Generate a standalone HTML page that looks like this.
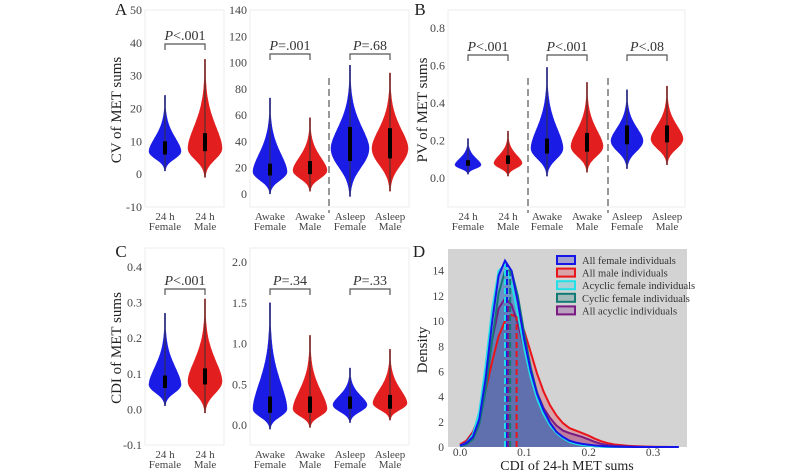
<!DOCTYPE html>
<html><head><meta charset="utf-8"><style>
html,body{margin:0;padding:0;background:#fff;}
svg{display:block;font-family:"Liberation Serif",serif;}
</style></head><body>
<svg id="fig" width="800" height="471" viewBox="0 0 800 471" xmlns="http://www.w3.org/2000/svg"></svg>
<script>
// ---------- data ----------
const catA1 = ["24 h|Female","24 h|Male"];
const catA2 = ["Awake|Female","Awake|Male","Asleep|Female","Asleep|Male"];
const catB = ["24 h|Female","24 h|Male","Awake|Female","Awake|Male","Asleep|Female","Asleep|Male"];
// violin stats: min, max, mode, q1, q3
const a1Min=[1,-1], a1Max=[24,35], a1Mode=[7,8], a1Q1=[6,7], a1Q3=[10,12.5];
const a2Min=[0,2,-2,2], a2Max=[73,58,98,92], a2Mode=[17,18,35,35], a2Q1=[14,15,25,27], a2Q3=[23,25,51,50];
const bMin=[0.02,0.01,0.01,0.03,0.05,0.07], bMax=[0.21,0.25,0.59,0.51,0.47,0.49], bMode=[0.07,0.08,0.16,0.17,0.2,0.21], bQ1=[0.065,0.075,0.13,0.14,0.18,0.19], bQ3=[0.095,0.12,0.21,0.24,0.28,0.28];
const c1Min=[0.01,-0.01], c1Max=[0.27,0.31], c1Mode=[0.07,0.08], c1Q1=[0.06,0.07], c1Q3=[0.095,0.115];
const c2Min=[-0.05,-0.03,0.03,0.06], c2Max=[1.5,1.1,0.7,0.93], c2Mode=[0.2,0.2,0.25,0.27], c2Q1=[0.15,0.15,0.2,0.2], c2Q3=[0.35,0.35,0.35,0.37];
const pA1=["P<.001"], pA2=["P=.001","P=.68"], pB=["P<.001","P<.001","P<.08"], pC1=["P<.001"], pC2=["P=.34","P=.33"];
// density panel D
const dGrid=[0,0.01,0.02,0.03,0.04,0.05,0.06,0.07,0.08,0.09,0.1,0.11,0.12,0.13,0.14,0.15,0.16,0.17,0.18,0.19,0.2,0.21,0.22,0.23,0.24,0.25,0.26,0.27,0.28,0.29,0.3,0.31,0.32,0.33,0.34];
const dFemale=[0.1,0.3,0.8,2.2,5.5,10,13.6,14.8,14,11.5,8.5,6,4.2,2.9,1.9,1.2,0.8,0.5,0.35,0.25,0.18,0.12,0.08,0.05,0.03,0.02,0.01,0,0,0,0,0,0,0,0];
const dMale=[0.2,0.5,1.2,2.5,4.5,6.8,8.8,10,10.5,10.3,9.2,7.5,5.8,4.4,3.3,2.5,1.9,1.5,1.3,1.1,0.9,0.65,0.45,0.3,0.2,0.15,0.1,0.07,0.05,0.03,0.02,0.01,0.01,0,0];
const dAcycF=[0.1,0.3,1,2.8,6.5,11,14,14.5,13,10.5,7.8,5.5,3.8,2.6,1.7,1.1,0.7,0.4,0.25,0.15,0.1,0.06,0.03,0,0,0,0,0,0,0,0,0,0,0,0];
const dCycF=[0.05,0.2,0.6,1.8,4.5,8.5,12.2,14,14,12,9,6.3,4.3,2.9,1.9,1.2,0.7,0.4,0.25,0.15,0.1,0.06,0.03,0.02,0,0,0,0,0,0,0,0,0,0,0];
const dAllAcyc=[0.1,0.4,1.1,2.5,5,8.5,11,11.8,11.3,9.8,7.8,5.9,4.3,3.1,2.3,1.7,1.3,1.1,0.95,0.8,0.6,0.4,0.25,0.15,0.1,0.07,0.05,0.03,0.02,0.01,0,0,0,0,0];
const dMedians=[0.073,0.088,0.07,0.078,0.075];
const dLabels=["All female individuals","All male individuals","Acyclic female individuals","Cyclic female individuals","All acyclic individuals"];
const dTicksX=[0,0.1,0.2,0.3], dTicksY=[0,2,4,6,8,10,12,14];

// ---------- helpers ----------
const NS="http://www.w3.org/2000/svg", svg=document.getElementById('fig');
function mk(tag,attrs,parent,text){const e=document.createElementNS(NS,tag);for(const k in attrs)e.setAttribute(k,attrs[k]);if(text!==undefined)e.textContent=text;(parent||svg).appendChild(e);return e;}
function lin(d0,d1,r0,r1){return v=>r0+(v-d0)*(r1-r0)/(d1-d0);}
const BLUE="#1b1be6", RED="#e31e1e";

function violinPanel(name,box,dom,ticks,fmt,cats,xs,mins,maxs,modes,q1s,q3s,hw,pvals,brY,dashes){
  const g=mk('g',{});
  
  
  const r=mk('rect',{x:box[0],y:box[1],width:box[2]-box[0],height:box[3]-box[1],fill:'#fff',stroke:'#ececec','stroke-width':1},g);
  
  
  const y=lin(dom[0],dom[1],box[3],box[1]);
  ticks.forEach(t=>{
    const tx=mk('text',{x:box[0]-3,y:y(t)+4,'text-anchor':'end','font-size':12,fill:'#444'},g,fmt(t));
    
    
  });
  (dashes||[]).forEach(dx=>{
    const l=mk('line',{x1:dx,x2:dx,y1:box[1]+68,y2:box[3]+6,stroke:'#555','stroke-width':1.2,'stroke-dasharray':'7,4'},g);
    
    
  });
  cats.forEach((c,i)=>{
    const cx=xs[i], parts=c.split('|');
    const lo=mins[i],hi=maxs[i],mo=modes[i];
    const sd=(mo-lo)/1.9, su=(hi-mo)/2.6;
    const N=80,L=[],R=[];
    for(let k=0;k<=N;k++){
      const v=lo+(hi-lo)*k/N;
      const z=Math.abs(v-mo)/(v<mo?sd:su);
      const w=Math.max(0.6,hw[i]*Math.exp(-Math.pow(z,v<mo?2.2:1.7)));
      R.push([cx+w,y(v)]);L.push([cx-w,y(v)]);
    }
    const pts=R.concat(L.reverse()).map(p=>p[0].toFixed(1)+','+p[1].toFixed(1)).join(' ');
    const col=parts[1]==='Female'?BLUE:RED;
    const v=mk('polygon',{points:pts,fill:col,stroke:col,'stroke-width':0.5},g);
    
    
    const wl=mk('line',{x1:cx,x2:cx,y1:y(lo),y2:y(hi),stroke:'#333','stroke-width':1},g);
    
    
    const bx=mk('rect',{x:cx-2,y:y(q3s[i]),width:4,height:y(q1s[i])-y(q3s[i]),fill:'#000'},g);
    
    
    [0,1].forEach(j=>{
      const tl=mk('text',{x:cx,y:box[3]+13+j*10,'text-anchor':'middle','font-size':11,fill:'#444'},g,parts[j]);
      
      
    });
  });
  pvals.forEach((p,k)=>{
    const xa=xs[2*k],xb=xs[2*k+1];
    const br=mk('path',{d:`M${xa},${brY+6}V${brY}H${xb}V${brY+6}`,fill:'none',stroke:'#555','stroke-width':1.2},g);
    
    
    const t=mk('text',{x:(xa+xb)/2,y:brY-4,'text-anchor':'middle','font-size':14,fill:'#333'},g);
    
    
    mk('tspan',{'font-style':'italic'},t,'P');
    mk('tspan',{},t,p.slice(1));
  });
  return g;
}
function label(txt,x,y,size,rot,name){
  const t=mk('text',{x:x,y:y,'text-anchor':'middle','font-size':size,fill:'#222',transform:rot?`rotate(-90 ${x} ${y})`:''},svg,txt);
  
  
}
const f0=t=>String(t), f1=t=>t.toFixed(1);

violinPanel('panel-a-24h',[145,10,224,207],[-10,50],[-10,0,10,20,30,40,50],f0,catA1,[165,205],a1Min,a1Max,a1Mode,a1Q1,a1Q3,[16,17],pA1,44);
violinPanel('panel-a-awake-asleep',[250,10,409,207],[-10,140],[0,20,40,60,80,100,120,140],f0,catA2,[270,310,350,390],a2Min,a2Max,a2Mode,a2Q1,a2Q3,[17,17,19,18],pA2,54,[329]);
violinPanel('panel-b',[448,10,685,207],[-0.155,0.896],[0,0.2,0.4,0.6,0.8],f1,catB,[468,508,547,587,627,667],bMin,bMax,bMode,bQ1,bQ3,[13,14,16,16,16,16],pB,55,[528,608]);
violinPanel('panel-c-24h',[145,248,224,445],[-0.1,0.453],[-0.1,0,0.1,0.2,0.3,0.4],f1,catA1,[165,205],c1Min,c1Max,c1Mode,c1Q1,c1Q3,[16,17],pC1,289);
violinPanel('panel-c-awake-asleep',[250,248,409,445],[-0.245,2.172],[0,0.5,1,1.5,2],f1,catA2,[270,310,350,390],c2Min,c2Max,c2Mode,c2Q1,c2Q3,[17,17,17,17],pC2,289);

label('CV of MET sums',121,110,15,true,'y-axis-title-a');
label('PV of MET sums',427,110,15,true,'y-axis-title-b');
label('CDI of MET sums',121,348,15,true,'y-axis-title-c');
label('A',121,15,17,false,'panel-letter-a');
label('B',420,15,17,false,'panel-letter-b');
label('C',121,257,17,false,'panel-letter-c');
label('D',419,257,17,false,'panel-letter-d');

// ---------- panel D ----------
(function(){
  const box=[448,249,687,447];
  const X=lin(0,0.3,460,653), Y=lin(0,14,447,270.7);
  const g=mk('g',{});
  
  
  const bg=mk('rect',{x:box[0],y:box[1],width:box[2]-box[0],height:box[3]-box[1],fill:'#d3d3d3'},g);
  
  
  const series=[dFemale,dMale,dAcycF,dCycF,dAllAcyc];
  const cols=["#1515e8","#e8151b","#22e0e8","#127a74","#7a1a82"];
  const fills=["rgba(40,40,200,0.28)","rgba(230,40,60,0.28)","rgba(40,200,220,0.25)","rgba(20,110,110,0.25)","rgba(120,30,130,0.28)"];
  const order=[1,4,3,2,0];
  order.forEach(i=>{
    const d=series[i];
    let p=`M${X(dGrid[0])},${Y(0)}`;
    dGrid.forEach((x,k)=>{p+=`L${X(x).toFixed(1)},${Y(d[k]).toFixed(1)}`;});
    const area=mk('path',{d:p+`L${X(dGrid[dGrid.length-1])},${Y(0)}Z`,fill:fills[i],stroke:'none'},g);
    
    
  });
  order.forEach(i=>{
    const d=series[i];
    const line=mk('path',{d:'M'+dGrid.map((x,k)=>X(x).toFixed(1)+','+Y(d[k]).toFixed(1)).join('L'),fill:'none',stroke:cols[i],'stroke-width':2},g);
    
    
  });
  [2,0,4,3,1].forEach(i=>{
    const m=dMedians[i], d=series[i];
    let k=0;while(k<dGrid.length-2&&dGrid[k+1]<m)k++;
    const h=d[k]+(d[k+1]-d[k])*(m-dGrid[k])/(dGrid[k+1]-dGrid[k]);
    const ml=mk('line',{x1:X(m),x2:X(m),y1:Y(0),y2:Y(h),stroke:cols[i],'stroke-width':2,'stroke-dasharray':'6,3'},g);
    
    
  });
  dTicksX.forEach(t=>{
    const tx=mk('text',{x:X(t),y:box[3]+9,'text-anchor':'middle','font-size':11.5,fill:'#444'},g,t.toFixed(1));
    
    
  });
  dTicksY.forEach(t=>{
    const tx=mk('text',{x:box[0]-4,y:Y(t)+4,'text-anchor':'end','font-size':11.5,fill:'#444'},g,String(t));
    
    
  });
  dLabels.forEach((lab,i)=>{
    const yy=260+i*12.6;
    const sw=mk('rect',{x:557,y:yy-4,width:18,height:8,fill:fills[i],stroke:cols[i],'stroke-width':2},g);
    
    
    const tx=mk('text',{x:582,y:yy+4,'font-size':10.5,fill:'#333'},g,lab);
    
    
  });
})();
label('Density',427,350,15,true,'y-axis-title-d');
label('CDI of 24-h MET sums',567,470,14,false,'x-axis-title-d');
</script>
</body></html>
